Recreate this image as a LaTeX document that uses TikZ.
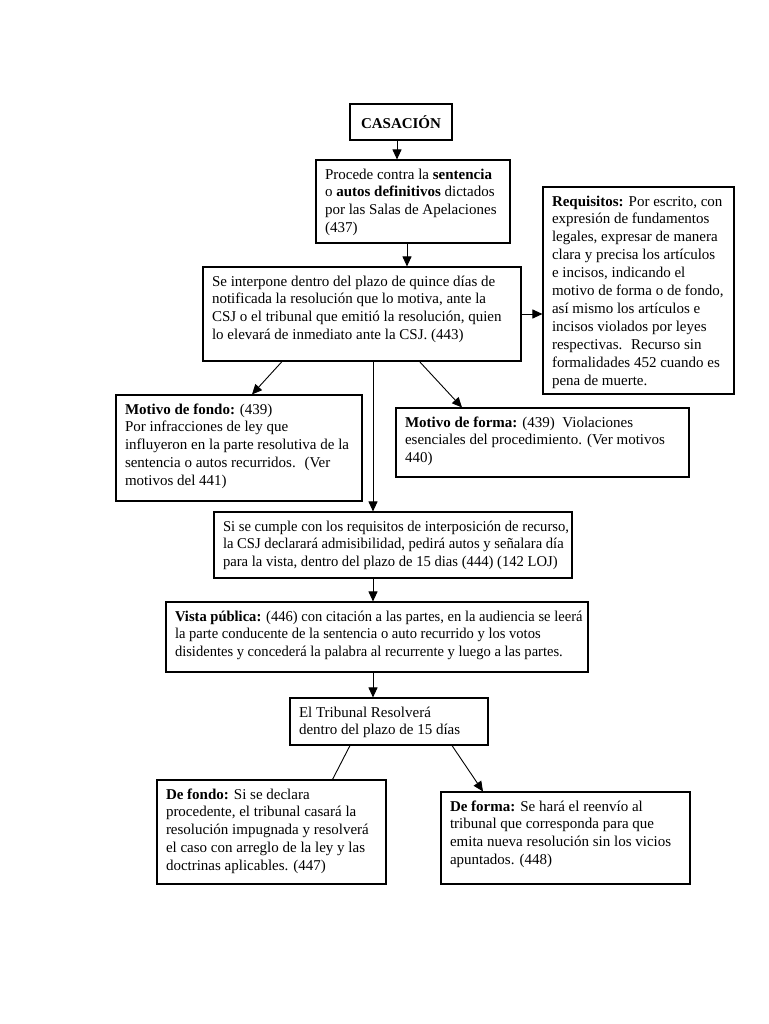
\documentclass[tikz,border=0pt]{standalone}
\usepackage{fontspec}
\setmainfont{Liberation Serif}
\usetikzlibrary{arrows.meta}
\tikzset{
  fbox/.style={draw=black, line width=1.1pt, rectangle, inner sep=0pt, fill=white},
  arr/.style={line width=0.9pt, -{Triangle[length=10pt,width=9pt]}},
  plain/.style={line width=0.9pt},
  every node/.style={font=\fontsize{15}{17.9}\selectfont}
}
\newcommand\flowbx[6]{%
  \node[fbox, minimum width=#4pt-#2pt, minimum height=#5pt-#3pt] (#1) at ({(#2+#4)/2},{(#3+#5)/2})
  {\parbox[c][\dimexpr#5pt-#3pt-13pt\relax][t]{\dimexpr#4pt-#2pt-18pt\relax}{\begin{tabular}[t]{@{}l@{}}#6\end{tabular}}};}
\begin{document}
\begin{tikzpicture}[x=1pt,y=-1pt]
\fill[white] (0,0) rectangle (768,1024);
\useasboundingbox (0,0) rectangle (768,1024);

\node[fbox, minimum width=102pt, minimum height=36pt] (cas) at (401,122) {\textbf{CASACIÓN}};

\flowbx{proc}{316}{160}{510}{243}{Procede contra la \textbf{sentencia}\\ o \textbf{autos definitivos} dictados\\ por las Salas de Apelaciones\\ (437)}

\flowbx{inter}{203}{267}{521}{361}{Se interpone dentro del plazo de quince días de\\ notificada la resolución que lo motiva, ante la\\ CSJ o el tribunal que emitió la resolución, quien\\ lo elevará de inmediato ante la CSJ. (443)}

\flowbx{req}{543}{187}{734}{394}{\textbf{Requisitos:} Por escrito, con\\ expresión de fundamentos\\ legales, expresar de manera\\ clara y precisa los artículos\\ e incisos, indicando el\\ motivo de forma o de fondo,\\ así mismo los artículos e\\ incisos violados por leyes\\ respectivas.~ Recurso sin\\ formalidades 452 cuando es\\ pena de muerte.}

\flowbx{fondo}{116}{395}{362}{501}{\textbf{Motivo de fondo:} (439)\\ Por infracciones de ley que\\ influyeron en la parte resolutiva de la\\ sentencia o autos recurridos.~ (Ver\\ motivos del 441)}

\flowbx{forma}{396}{408}{689}{477}{\textbf{Motivo de forma:} (439)~ Violaciones\\ esenciales del procedimiento. (Ver motivos\\ 440)}

\flowbx{cumple}{214}{512}{572}{578}{\addfontfeatures{FakeStretch=0.975}Si se cumple con los requisitos de interposición de recurso,\\ \addfontfeatures{FakeStretch=0.975}la CSJ declarará admisibilidad, pedirá autos y señalara día\\ \addfontfeatures{FakeStretch=0.975}para la vista, dentro del plazo de 15 dias (444) (142 LOJ)}

\flowbx{vista}{166}{602}{588}{672}{\addfontfeatures{FakeStretch=0.97}\textbf{Vista pública:} (446) con citación a las partes, en la audiencia se leerá\\ \addfontfeatures{FakeStretch=0.97}la parte conducente de la sentencia o auto recurrido y los votos\\ \addfontfeatures{FakeStretch=0.97}disidentes y concederá la palabra al recurrente y luego a las partes.}

\flowbx{trib}{290}{698}{488}{745}{El Tribunal Resolverá\\ dentro del plazo de 15 días}

\flowbx{fondob}{157}{780}{386}{884}{\textbf{De fondo:} Si se declara\\ procedente, el tribunal casará la\\ resolución impugnada y resolverá\\ el caso con arreglo de la ley y las\\ doctrinas aplicables. (447)}

\flowbx{formab}{441}{792}{690}{884}{\textbf{De forma:} Se hará el reenvío al\\ tribunal que corresponda para que\\ emita nueva resolución sin los vicios\\ apuntados. (448)}

\coordinate (c1) at (397,0);
\coordinate (c2) at (407,0);
\coordinate (spine) at (373,0);

\draw[arr] (cas.south -| c1) -- (proc.north -| c1);
\draw[arr] (proc.south -| c2) -- (inter.north -| c2);
\draw[arr] (inter.east) -- (inter.east -| req.west);
\draw[arr] ([xshift=-80pt]inter.south) -- ([xshift=13pt]fondo.north);
\draw[arr] ([xshift=57.5pt]inter.south) -- ([xshift=-80.5pt]forma.north);
\draw[arr] (inter.south -| spine) -- (cumple.north -| spine);
\draw[arr] (cumple.south -| spine) -- (vista.north -| spine);
\draw[arr] (vista.south -| spine) -- (trib.north -| spine);
\draw[plain] ([xshift=-39pt]trib.south) -- ([xshift=61pt]fondob.north);
\draw[arr] ([xshift=63pt]trib.south) -- ([xshift=-82.5pt]formab.north);
\end{tikzpicture}
\end{document}
